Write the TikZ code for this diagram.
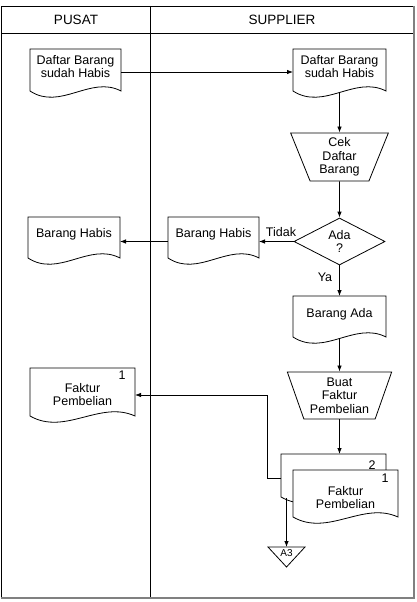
\documentclass[tikz,border=0pt]{standalone}
\usepackage{fontspec}
\setmainfont{Liberation Sans}
\usetikzlibrary{calc,shapes.geometric,arrows.meta}
% #1 name, #2 centre, #3 width, #4 height (symmetric about text), #5 side extension, #6 text
\newcommand\docshape[6]{%
  \node[docframe, minimum width=#3, minimum height=#4] (#1) at #2 {};
  \draw[shp] ($(#1.south west)+(0,#5)$) -- (#1.north west) -- (#1.north east)
     -- ($(#1.south east)+(0,#5)$)
     .. controls +({-#3/3},-16) and +({#3/3},20) .. ($(#1.south west)+(0,#5)$) -- cycle;
  \coordinate (#1-b) at ($(#1.south)+(0,#5+1.5)$);
  \node[body] (#1-t) at (#1.center) {#6};
}
\begin{document}
\begin{tikzpicture}[x=1pt,y=-1pt,
  shp/.style={draw=black,line width=0.8pt,fill=white},
  arrow/.style={draw=black,line width=0.8pt,-{Latex[length=6pt,width=4.5pt]}},
  plain/.style={draw=black,line width=0.8pt},
  body/.style={font=\fontsize{12.5}{13}\selectfont, inner sep=0pt, align=center},
  head/.style={font=\fontsize{13.5}{15}\selectfont, inner sep=0pt},
  docframe/.style={inner sep=0pt, outer sep=0pt, draw=none},
  trap/.style={shape=trapezium, shape border rotate=180, trapezium stretches=true,
    draw=black, line width=0.8pt, inner sep=0pt, align=center,
    font=\fontsize{12.5}{13.5}\selectfont},
  decision/.style={shape=diamond, aspect=2, draw=black, line width=0.8pt, inner sep=0pt,
    align=center, font=\fontsize{12.5}{13}\selectfont}
]
\useasboundingbox[fill=white] (0,0) rectangle (416,602);

% frame
\draw[plain] (1,6) rectangle (413,597);
\draw[draw=gray, line width=2pt] (413.5,6) -- (413.5,598) -- (1,598);
\draw[plain] (1,33) -- (413,33);
\draw[plain] (150,6) -- (150,597);
\node[head] (pusat) at (76,19.5) {PUSAT};
\node[head] (supplier) at (282,19.5) {SUPPLIER};

% documents
\docshape{d1}{(75.5,67)}{91}{36}{6}{Daftar Barang\\sudah Habis}
\docshape{d2}{(339.5,67)}{93}{36}{6}{Daftar Barang\\sudah Habis}

\node[trap, minimum width=98, minimum height=48, trapezium angle=71] (cek) at (339.5,157) {Cek\\Daftar\\Barang};

\node[decision, minimum width=91, minimum height=47] (dia) at (339.5,241.5) {Ada\\?};

\docshape{bh2}{(213.5,234)}{91}{34}{7}{Barang Habis}
\docshape{bh1}{(74,234)}{92}{34}{7}{Barang Habis}

\docshape{ba}{(339.5,314)}{93}{36}{5}{Barang Ada}

\node[trap, minimum width=105, minimum height=47, trapezium angle=69] (buat) at (339.5,395.5) {Buat\\Faktur\\Pembelian};

\docshape{fp1}{(82.5,395)}{105}{54}{-6}{Faktur\\Pembelian}
\node[body] (n1a) at (122,375.5) {1};

\docshape{fpb}{(333.5,478)}{105}{48}{-5}{}
\node[body] (n2) at (372,465) {2};
\docshape{fpf}{(345.5,498)}{105}{56}{-9}{Faktur\\Pembelian}
\node[body] (n1b) at (385,478) {1};

% connector A3
\draw[shp] (268,547) -- (305,547) -- (286.5,567) -- cycle;
\node[font=\fontsize{10}{12}\selectfont, inner sep=0pt] (a3) at (286.5,553) {A3};
\coordinate (a3top) at (286.5,547);
\coordinate (fpbl) at ($(fpb.south west)+(5.5,-4)$);

% connectors
\draw[arrow] ([yshift=-5pt]d1.east) -- ([yshift=-5pt]d2.west);
\draw[arrow] (d2-b) -- (cek.north);
\draw[arrow] (cek.south) -- (dia.north);
\draw[arrow] (dia.west) -- (dia.west -| bh2.east);
\draw[arrow] (dia.west -| bh2.west) -- (dia.west -| bh1.east);
\node[body] (tidak) at (281,232) {Tidak};
\draw[arrow] (dia.south) -- (ba.north);
\node[body] (ya) at (325,277) {Ya};
\draw[arrow] (ba-b) -- (buat.north);
\draw[arrow] (buat.south) -- (buat.south |- fpb.north);
\draw[arrow] (fpb.west) -- ++(-14,0) |- (fp1.east);
\draw[arrow] (fpbl) -- (a3top);
\end{tikzpicture}
\end{document}
